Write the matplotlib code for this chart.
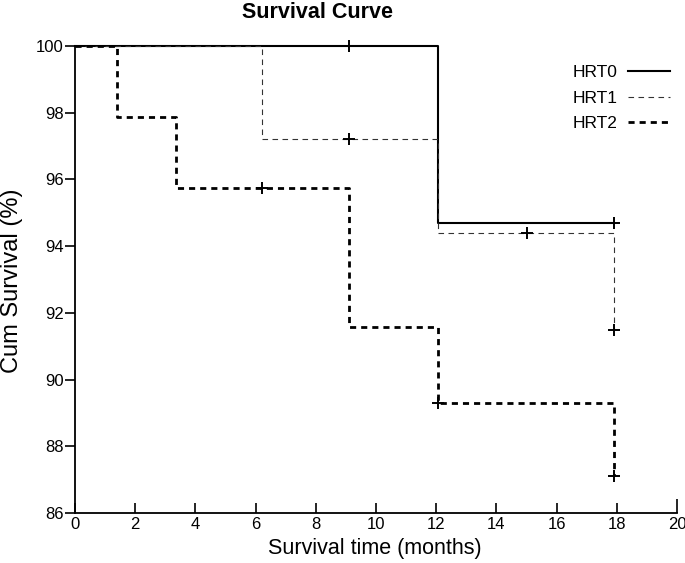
import matplotlib
matplotlib.use('Agg')
import matplotlib.pyplot as plt

plt.rcParams['font.family'] = ['Liberation Sans', 'DejaVu Sans']

# Kaplan-Meier steps (months, cum survival %)
hrt0_time = [0, 12.05, 17.9]
hrt0_surv = [100, 94.7, 94.7]
hrt0_cens_time = [9.1, 17.9]
hrt0_cens_surv = [100, 94.7]

hrt1_time = [0, 6.2, 12.05, 17.9]
hrt1_surv = [100, 97.2, 94.4, 91.5]
hrt1_cens_time = [9.1, 15.0, 17.9]
hrt1_cens_surv = [97.2, 94.4, 91.5]

hrt2_time = [0, 1.4, 3.35, 9.1, 12.05, 17.9]
hrt2_surv = [100, 97.87, 95.74, 91.58, 89.3, 87.1]
hrt2_cens_time = [6.2, 12.05, 17.9]
hrt2_cens_surv = [95.74, 89.3, 87.1]

labels = ['HRT0', 'HRT1', 'HRT2']
x_ticks = list(range(0, 21, 2))
y_ticks = list(range(86, 101, 2))

fig = plt.figure(figsize=(6.85, 5.63), dpi=100)
ax = fig.add_axes([75 / 685, 1 - 513 / 563, 602 / 685, 467 / 563])

styles = [
    dict(color='black', lw=1.5, ls='-'),
    dict(color='#333333', lw=0.8, ls=(0, (5, 4))),
    dict(color='black', lw=2.0, ls=(0, (2.2, 1.8))),
]
series = [
    (hrt0_time, hrt0_surv, hrt0_cens_time, hrt0_cens_surv),
    (hrt1_time, hrt1_surv, hrt1_cens_time, hrt1_cens_surv),
    (hrt2_time, hrt2_surv, hrt2_cens_time, hrt2_cens_surv),
]
handles = []
for (t, s, ct, cs), st, lab in zip(series, styles, labels):
    h, = ax.step(t, s, where='post', clip_on=False, label=lab, **st)
    handles.append(h)
    ax.plot(ct, cs, ls='none', marker='+', ms=8, mew=1.4, color='black', clip_on=False)

ax.set_xlim(0, 20)
ax.set_ylim(86, 100)
ax.set_xticks(x_ticks)
ax.set_yticks(y_ticks)
ax.spines['top'].set_visible(False)
ax.spines['right'].set_visible(False)
for sp in ['left', 'bottom']:
    ax.spines[sp].set_linewidth(1.3)
ax.tick_params(axis='x', direction='in', length=7, width=1.2, labelsize=12, pad=3)
ax.tick_params(axis='y', direction='out', length=7, width=1.2, labelsize=12, pad=1)
ax.xaxis.get_major_ticks()[-1].tick1line.set_markersize(10)

ax.set_xlabel('Survival time (months)', fontsize=15.5)
ax.set_ylabel('Cum Survival (%)', fontsize=17)
ax.xaxis.set_label_coords(0.498, -0.054)
ax.yaxis.set_label_coords(-0.086, 0.497)
fig.text(318 / 685, 1 - 12 / 563, 'Survival Curve', ha='center', va='center',
         fontsize=15.5, fontweight='bold')

ax.legend(handles=handles, loc='upper right', bbox_to_anchor=(1.0, 0.974),
          frameon=False, markerfirst=False, fontsize=12.5, handlelength=2.4,
          handletextpad=0.6, labelspacing=0.6, borderaxespad=0.0)

fig.savefig('out.png', dpi=100)
